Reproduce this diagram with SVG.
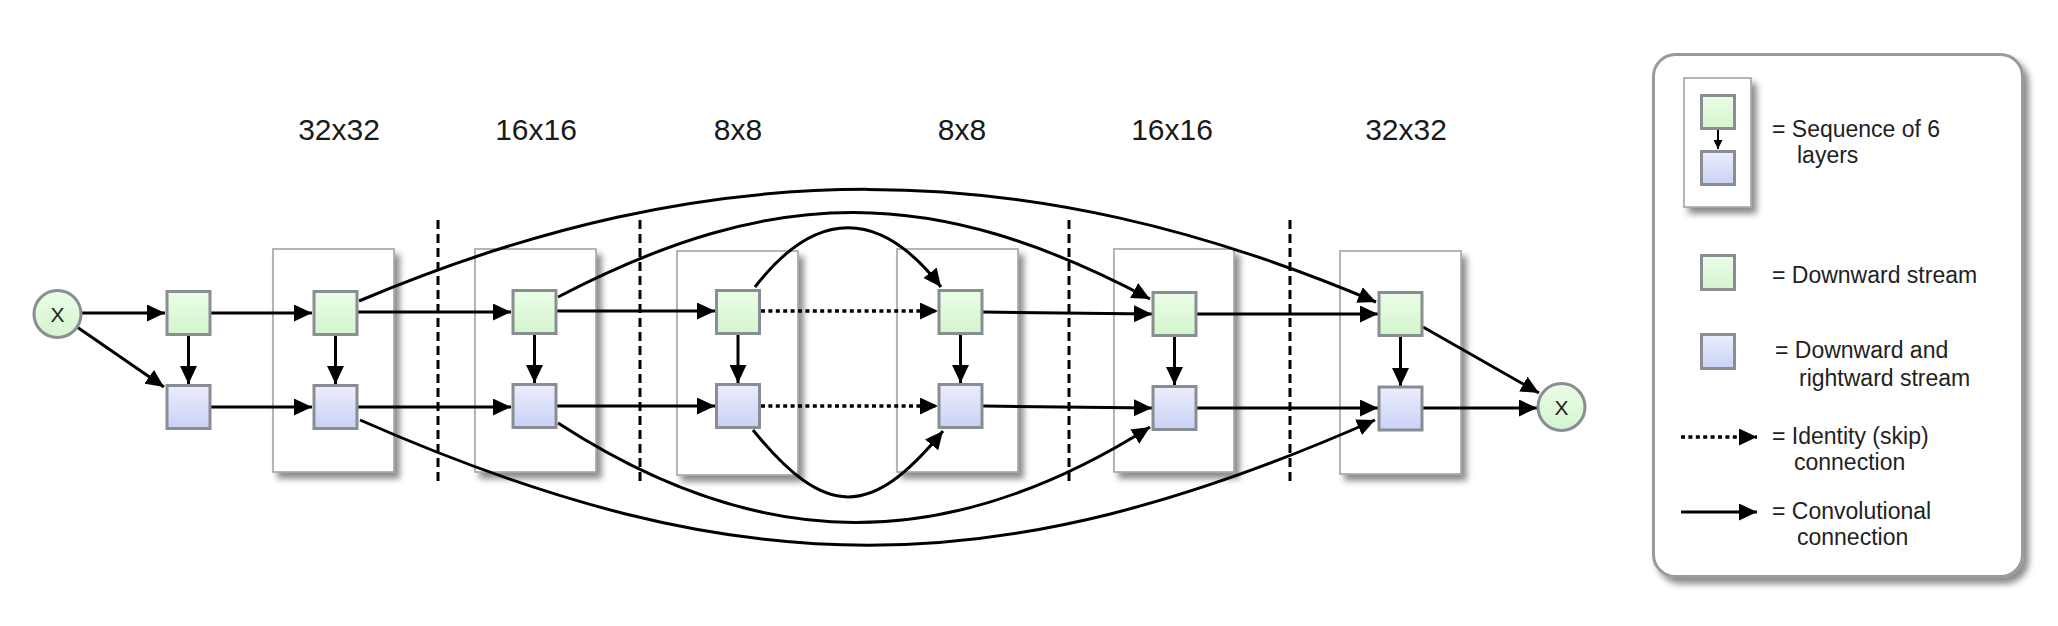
<svg xmlns="http://www.w3.org/2000/svg" width="2058" height="626" viewBox="0 0 2058 626">
<defs>
<style>
.box{fill:#fff;stroke:#a3a3a3;stroke-width:1.6;filter:url(#sh)}
.g{fill:url(#gg);stroke:#8a8d92;stroke-width:3}
.b{fill:url(#bg);stroke:#8a8d92;stroke-width:3}
.c{fill:none;stroke:#000;stroke-width:3;marker-end:url(#ah)}
.dot{fill:none;stroke:#000;stroke-width:3.5;stroke-dasharray:4 3.4;marker-end:url(#ah)}
.dash{stroke:#000;stroke-width:3;stroke-dasharray:9 5}
.lab{font-family:"Liberation Sans",Arial,sans-serif;font-size:30px;fill:#1a1a1a;text-anchor:middle}
.lt{font-family:"Liberation Sans",Arial,sans-serif;font-size:23px;fill:#222}
.xt{font-family:"Liberation Sans",Arial,sans-serif;font-size:21px;fill:#222;text-anchor:middle}
</style>
<linearGradient id="gg" x1="0" y1="0" x2="0" y2="1"><stop offset="0" stop-color="#ebfde8"/><stop offset="1" stop-color="#d3f5cd"/></linearGradient>
<linearGradient id="bg" x1="0" y1="0" x2="0" y2="1"><stop offset="0" stop-color="#eceefd"/><stop offset="1" stop-color="#c9d1f6"/></linearGradient>
<filter id="sh" x="-20%" y="-10%" width="140%" height="130%"><feDropShadow dx="5" dy="6" stdDeviation="3" flood-color="#000" flood-opacity="0.45"/></filter>
<marker id="ah" markerUnits="userSpaceOnUse" markerWidth="18" markerHeight="17" refX="17" refY="8" orient="auto" viewBox="0 0 17 16"><path d="M0,0 L17,8 L0,16 z" fill="#000"/></marker>
<marker id="ahs" markerUnits="userSpaceOnUse" markerWidth="10" markerHeight="9" refX="9" refY="4.5" orient="auto" viewBox="0 0 9 9"><path d="M0,0 L9,4.5 L0,9 z" fill="#000"/></marker>
</defs>
<rect width="2058" height="626" fill="#fff"/>

<g id="labels">
<text class="lab" x="339" y="140">32x32</text>
<text class="lab" x="536" y="140">16x16</text>
<text class="lab" x="738" y="140">8x8</text>
<text class="lab" x="962" y="140">8x8</text>
<text class="lab" x="1172" y="140">16x16</text>
<text class="lab" x="1406" y="140">32x32</text>
</g>

<g id="blocks">
<rect id="block1" class="box" x="273" y="249" width="121" height="223"/>
<rect id="block2" class="box" x="475" y="249" width="121" height="223"/>
<rect id="block3" class="box" x="677" y="251" width="121" height="224"/>
<rect id="block4" class="box" x="897" y="249" width="121" height="223"/>
<rect id="block5" class="box" x="1114" y="249" width="120" height="223"/>
<rect id="block6" class="box" x="1340" y="251" width="121" height="223"/>
</g>

<g id="dividers">
<line class="dash" x1="438" y1="220" x2="438" y2="482"/>
<line class="dash" x1="640" y1="220" x2="640" y2="482"/>
<line class="dash" x1="1069" y1="220" x2="1069" y2="482"/>
<line class="dash" x1="1290" y1="220" x2="1290" y2="482"/>
</g>

<g id="connectors">
<path class="c" d="M81,313 H165"/>
<path class="c" d="M77,327 L164,387"/>
<path class="c" d="M188.5,336 V384"/>
<path class="c" d="M211,313 H312"/>
<path class="c" d="M211,407 H312"/>
<path class="c" d="M335.5,336 V384"/>
<path class="c" d="M358,312 H511"/>
<path class="c" d="M358,407 H511"/>
<path class="c" d="M534.5,335 V383"/>
<path class="c" d="M557,311 H715"/>
<path class="c" d="M557,406 H715"/>
<path class="c" d="M738,335 V383"/>
<path class="dot" d="M761,311 H938"/>
<path class="dot" d="M761,406 H938"/>
<path class="c" d="M960.5,335 V383"/>
<path class="c" d="M983,312 L1152,314"/>
<path class="c" d="M983,406 L1152,408"/>
<path class="c" d="M1174.5,337 V385"/>
<path class="c" d="M1197,314 H1378"/>
<path class="c" d="M1197,408 H1378"/>
<path class="c" d="M1400.5,337 V386"/>
<path class="c" d="M1423,327 L1539,393"/>
<path class="c" d="M1423,408 L1537,408"/>
<path class="c" d="M359,301 C712,152 1023,152 1376,302"/>
<path class="c" d="M558,297 C775,184 933,184 1150,299"/>
<path class="c" d="M755,287 C816,208 880,208 941,287"/>
<path class="c" d="M753,430 C825,519 871,519 943,431"/>
<path class="c" d="M558,423 C761,555 947,555 1150,427"/>
<path class="c" d="M360,420 C740,587 997,587 1375,420"/>
</g>

<g id="inX"><circle class="g" cx="57.5" cy="314" r="23.5"/><text class="xt" x="57.5" y="322">X</text></g>
<g id="outX"><circle class="g" cx="1561.5" cy="407" r="23.5"/><text class="xt" x="1561.5" y="415">X</text></g>

<g id="n1"><rect class="g" x="167" y="291.5" width="43" height="43"/><rect class="b" x="167" y="385.5" width="43" height="43"/></g>
<g id="n2"><rect class="g" x="314" y="291.5" width="43" height="43"/><rect class="b" x="314" y="385.5" width="43" height="43"/></g>
<g id="n3"><rect class="g" x="513" y="290.5" width="43" height="43"/><rect class="b" x="513" y="384.5" width="43" height="43"/></g>
<g id="n4"><rect class="g" x="716.5" y="290.5" width="43" height="43"/><rect class="b" x="716.5" y="384.5" width="43" height="43"/></g>
<g id="n5"><rect class="g" x="939" y="290.5" width="43" height="43"/><rect class="b" x="939" y="384.5" width="43" height="43"/></g>
<g id="n6"><rect class="g" x="1153" y="292.5" width="43" height="43"/><rect class="b" x="1153" y="386.5" width="43" height="43"/></g>
<g id="n7"><rect class="g" x="1379" y="292.5" width="43" height="43"/><rect class="b" x="1379" y="387" width="43" height="43"/></g>

<g id="legend">
<rect x="1653.5" y="54.5" width="369" height="522" rx="22" fill="#fff" stroke="#9a9a9a" stroke-width="3" filter="url(#sh)"/>
<rect class="box" x="1684" y="78" width="67" height="129"/>
<rect class="g" x="1701.5" y="95.5" width="33" height="33"/>
<path d="M1718,130 V149" stroke="#000" stroke-width="2" marker-end="url(#ahs)"/>
<rect class="b" x="1701.5" y="151.5" width="33" height="33"/>
<text class="lt" x="1772" y="137">= Sequence of 6</text>
<text class="lt" x="1797" y="163">layers</text>
<rect class="g" x="1701.5" y="255.5" width="33" height="34"/>
<text class="lt" x="1772" y="283">= Downward stream</text>
<rect class="b" x="1701.5" y="334.5" width="33" height="34"/>
<text class="lt" x="1775" y="358">= Downward and</text>
<text class="lt" x="1799" y="386">rightward stream</text>
<path class="dot" d="M1681,437 H1757"/>
<text class="lt" x="1772" y="444">= Identity (skip)</text>
<text class="lt" x="1794" y="470">connection</text>
<path class="c" d="M1681,512 H1757"/>
<text class="lt" x="1772" y="519">= Convolutional</text>
<text class="lt" x="1797" y="545">connection</text>
</g>
</svg>
